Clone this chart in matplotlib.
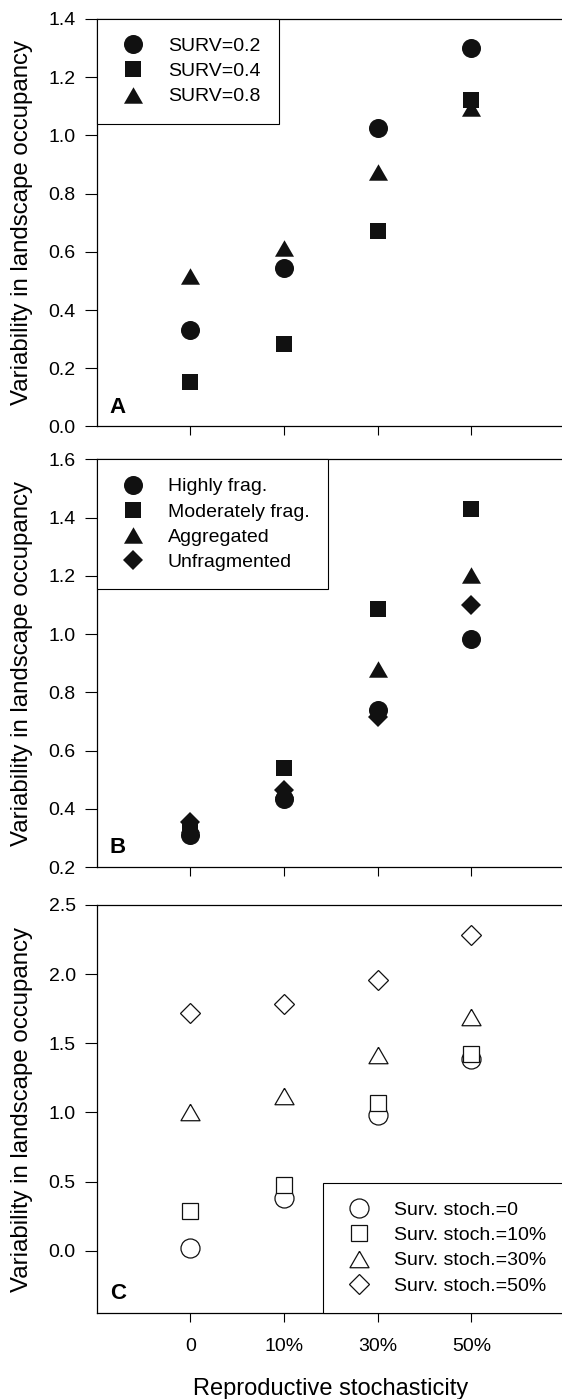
import matplotlib
matplotlib.use('Agg')
import matplotlib.pyplot as plt

plt.rcParams['font.family'] = ['Liberation Sans', 'DejaVu Sans']

# categories on the x axis
x_labels = ['0', '10%', '30%', '50%']
x_pos = [0, 1, 2, 3]

# panel A
surv_names = ['SURV=0.2', 'SURV=0.4', 'SURV=0.8']
surv_02 = [0.330, 0.544, 1.026, 1.302]
surv_04 = [0.153, 0.285, 0.671, 1.122]
surv_08 = [0.517, 0.612, 0.874, 1.095]

# panel B
frag_names = ['Highly frag.', 'Moderately frag.', 'Aggregated', 'Unfragmented']
highly = [0.309, 0.432, 0.740, 0.984]
moderately = [0.325, 0.541, 1.085, 1.429]
aggregated = [0.349, 0.469, 0.879, 1.201]
unfragmented = [0.355, 0.463, 0.715, 1.099]

# panel C
stoch_names = ['Surv. stoch.=0', 'Surv. stoch.=10%', 'Surv. stoch.=30%', 'Surv. stoch.=50%']
stoch_0 = [0.019, 0.378, 0.980, 1.384]
stoch_10 = [0.285, 0.475, 1.072, 1.425]
stoch_30 = [1.006, 1.116, 1.413, 1.693]
stoch_50 = [1.720, 1.786, 1.959, 2.286]

tri = [(0, 0.866), (-1, -0.866), (1, -0.866), (0, 0.866)]
# marker: (shape, size in pt)
mk = {'o': ('o', 13.7), 's': ('s', 11.2), '^': (tri, 13.7), 'D': ('D', 10.2)}

fig = plt.figure(figsize=(5.62, 13.99), dpi=100)
left = 96.7 / 562
width = (565 - 96.7) / 562
axA = fig.add_axes([left, 0.69514, width, 0.29128])
axB = fig.add_axes([left, 0.38027, width, 0.29142])
axC = fig.add_axes([left, 0.06147, width, 0.29164])


def style(ax, ylim, yticks, letter):
    ax.set_xlim(-1, 4)
    ax.set_ylim(*ylim)
    ax.set_yticks(yticks)
    ax.set_yticklabels(['%.1f' % t for t in yticks])
    ax.set_xticks(x_pos)
    ax.spines['right'].set_visible(False)
    for s in ax.spines.values():
        s.set_linewidth(0.9)
    ax.tick_params(axis='y', direction='out', length=8.6, width=0.8, pad=6.5, labelsize=14)
    ax.tick_params(axis='x', direction='out', length=6.7, width=0.8, pad=11, labelsize=14)
    ax.set_ylabel('Variability in landscape occupancy', fontsize=17.3)
    ax.yaxis.set_label_coords(-0.136, 0.5)
    ax.text(0.028, 0.034, letter, transform=ax.transAxes, fontsize=16,
            fontweight='bold', ha='left', va='baseline')


def series(ax, y, key, label, filled=True):
    m, ms = mk[key]
    if filled:
        ax.plot(x_pos, y, linestyle='none', marker=m, markersize=ms,
                color='#111111', markeredgewidth=0, label=label, clip_on=False)
    else:
        ax.plot(x_pos, y, linestyle='none', marker=m, markersize=ms,
                markerfacecolor='white', markeredgecolor='#111111',
                markeredgewidth=0.9, label=label, clip_on=False)


leg_kw = dict(fontsize=14, frameon=True, fancybox=False, framealpha=1,
              edgecolor='black', borderpad=0.95, labelspacing=0.39,
              handlelength=1.8, handletextpad=0.9, borderaxespad=0,
              numpoints=1)

# A
series(axA, surv_02, 'o', surv_names[0])
series(axA, surv_04, 's', surv_names[1])
series(axA, surv_08, '^', surv_names[2])
style(axA, (0, 1.4), [0.0, 0.2, 0.4, 0.6, 0.8, 1.0, 1.2, 1.4], 'A')
axA.set_xticklabels([])
lg = axA.legend(loc='upper left', bbox_to_anchor=(0, 1), **leg_kw)
lg.get_frame().set_linewidth(0.8)

# B
series(axB, highly, 'o', frag_names[0])
series(axB, moderately, 's', frag_names[1])
series(axB, aggregated, '^', frag_names[2])
series(axB, unfragmented, 'D', frag_names[3])
style(axB, (0.2, 1.6), [0.2, 0.4, 0.6, 0.8, 1.0, 1.2, 1.4, 1.6], 'B')
axB.set_xticklabels([])
lg = axB.legend(loc='upper left', bbox_to_anchor=(0, 1), **leg_kw)
lg.get_frame().set_linewidth(0.8)

# C
series(axC, stoch_0, 'o', stoch_names[0], filled=False)
series(axC, stoch_10, 's', stoch_names[1], filled=False)
series(axC, stoch_30, '^', stoch_names[2], filled=False)
series(axC, stoch_50, 'D', stoch_names[3], filled=False)
style(axC, (-0.45, 2.5), [0.0, 0.5, 1.0, 1.5, 2.0, 2.5], 'C')
axC.set_xticklabels(x_labels)
axC.set_xlabel('Reproductive stochasticity', fontsize=17)
axC.xaxis.label.set_va('baseline')
axC.xaxis.set_label_coords(0.499, -0.2015)
lg = axC.legend(loc='lower left', bbox_to_anchor=((322.6 - 96.7) / 468.3, 0), **leg_kw)
lg.get_frame().set_linewidth(0.8)

fig.savefig('out.png', dpi=100)
